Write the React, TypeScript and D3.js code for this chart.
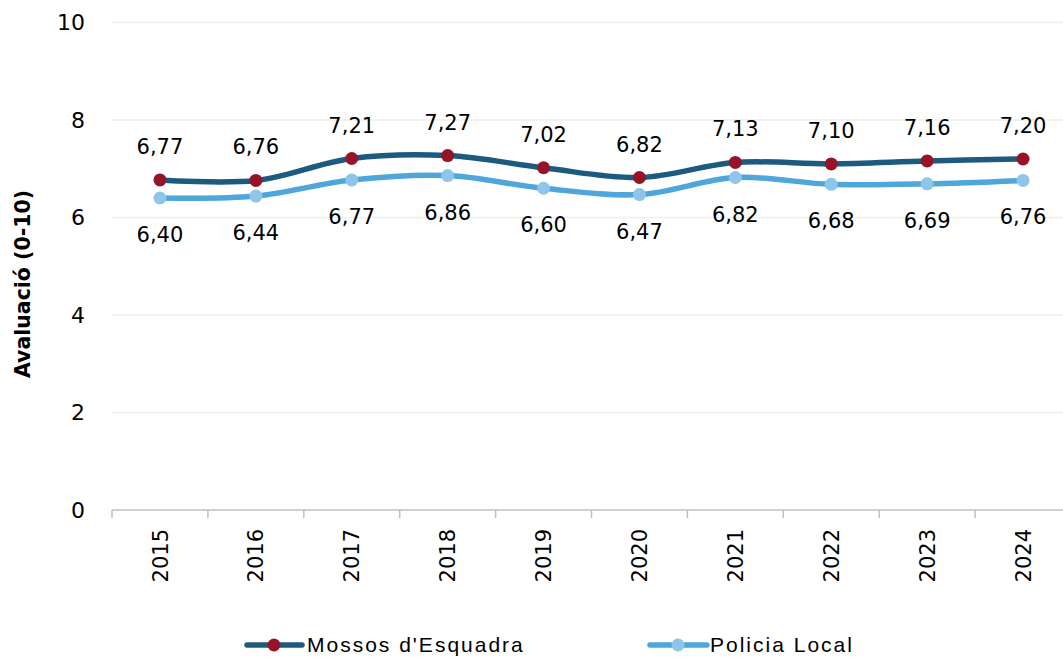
import React from "react";
import * as d3 from "d3";

const years = ["2015", "2016", "2017", "2018", "2019", "2020", "2021", "2022", "2023", "2024"];
const mossos = [6.77, 6.76, 7.21, 7.27, 7.02, 6.82, 7.13, 7.1, 7.16, 7.2];
const policia = [6.4, 6.44, 6.77, 6.86, 6.6, 6.47, 6.82, 6.68, 6.69, 6.76];
const yTicks = [0, 2, 4, 6, 8, 10];
const seriesNames = ["Mossos d'Esquadra", "Policia Local"];

const W = 1063;
const H = 658;
const FONT = "'Liberation Sans', Arial, sans-serif";
const NUMFONT = "'DejaVu Sans', sans-serif";

const lineDark = "#1d5a80";
const lineLight = "#4ea6da";
const markDark = "#971428";
const markLight = "#8ec5e9";

export default function App() {
  const x = d3.scaleBand<string>().domain(years).range([112, 1071]).padding(0);
  const y = d3.scaleLinear().domain([0, 10]).range([510, 22.5]);
  const cx = (d: string) => (x(d) as number) + x.bandwidth() / 2;
  const fmt = (v: number) => v.toFixed(2).replace(".", ",");

  const line = d3
    .line<number>()
    .x((_, i) => cx(years[i]))
    .y((v) => y(v))
    .curve(d3.curveCatmullRom.alpha(0.5));

  const series = [
    { name: seriesNames[0], values: mossos, stroke: lineDark, mark: markDark, dy: -26 },
    { name: seriesNames[1], values: policia, stroke: lineLight, mark: markLight, dy: 44 },
  ];

  const legend = [
    { x0: 247, x1: 302, mx: 274, tx: 307, s: series[0] },
    { x0: 650, x1: 707, mx: 678, tx: 710, s: series[1] },
  ];
  const ly = 645;

  return (
    <svg width={W} height={H} style={{ position: "absolute", left: 0, top: 0 }} fontFamily={FONT}>
      <rect width={W} height={H} fill="#fff" />
      {yTicks.slice(1).map((t) => (
        <line key={t} x1={112} x2={W} y1={y(t)} y2={y(t)} stroke="#eeeeee" strokeWidth={1.5} />
      ))}
      {yTicks.map((t) => (
        <text key={"l" + t} x={85} y={y(t)} dy="0.36em" textAnchor="end" fontSize={22} fontFamily={NUMFONT} fill="#000">
          {t}
        </text>
      ))}
      <line x1={112} x2={W} y1={y(0)} y2={y(0)} stroke="#bfbfbf" strokeWidth={1.5} />
      {years.map((yr) => (
        <line key={"t" + yr} x1={x(yr) as number} x2={x(yr) as number} y1={y(0)} y2={y(0) + 8} stroke="#bfbfbf" strokeWidth={1.5} />
      ))}
      {years.map((yr) => (
        <text
          key={"x" + yr}
          transform={`translate(${cx(yr)},${529}) rotate(-90)`}
          dy="0.36em"
          textAnchor="end"
          fontSize={21}
          fontFamily={NUMFONT}
          fill="#000"
        >
          {yr}
        </text>
      ))}
      <text
        transform={`translate(23,${284}) rotate(-90)`}
        dy="0.36em"
        textAnchor="middle"
        fontSize={20.5}
        fontWeight="bold"
        fontFamily={NUMFONT}
        fill="#000"
      >
        Avaluació (0-10)
      </text>
      {series.map((s) => (
        <g key={s.name}>
          <path d={line(s.values) || ""} fill="none" stroke={s.stroke} strokeWidth={5.5} />
          {s.values.map((v, i) => (
            <circle key={i} cx={cx(years[i])} cy={y(v)} r={6.5} fill={s.mark} />
          ))}
          {s.values.map((v, i) => (
            <text key={"d" + i} x={cx(years[i])} y={y(v) + s.dy} textAnchor="middle" fontSize={21} fontFamily={NUMFONT} fill="#000">
              {fmt(v)}
            </text>
          ))}
        </g>
      ))}
      {legend.map((l) => (
        <g key={"lg" + l.s.name}>
          <line x1={l.x0} x2={l.x1} y1={ly} y2={ly} stroke={l.s.stroke} strokeWidth={5.5} strokeLinecap="round" />
          <circle cx={l.mx} cy={ly} r={6.5} fill={l.s.mark} />
          <text x={l.tx} y={652} fontSize={21} letterSpacing={2} fill="#000">
            {l.s.name}
          </text>
        </g>
      ))}
    </svg>
  );
}
